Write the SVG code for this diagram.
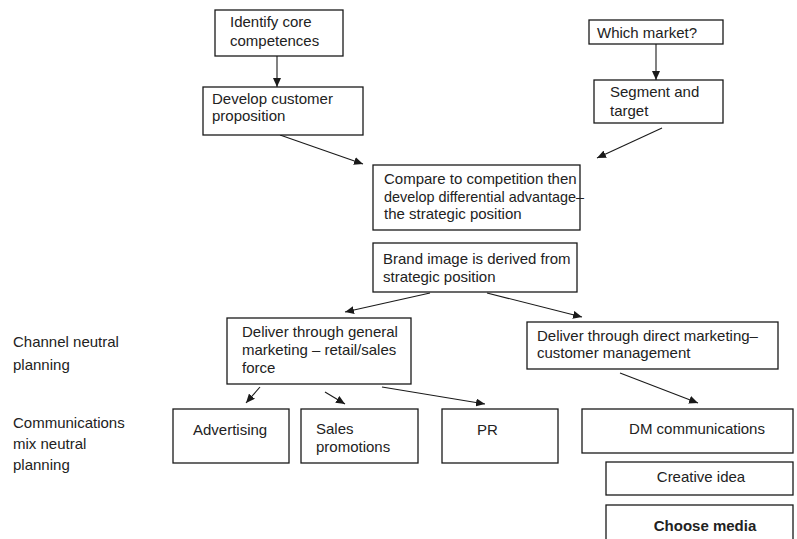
<svg xmlns="http://www.w3.org/2000/svg" width="797" height="539" viewBox="0 0 797 539">
<style>
  .box { fill: #ffffff; stroke: #1a1a1a; stroke-width: 1.3; }
  text { font-family: "Liberation Sans", Arial, sans-serif; font-size: 15px; fill: #222222; }
  .c { text-anchor: middle; }
  .b { font-weight: bold; }
  .con { stroke: #1a1a1a; stroke-width: 1.1; fill: none; marker-end: url(#ah); }
</style>
<defs>
  <marker id="ah" markerUnits="userSpaceOnUse" markerWidth="10" markerHeight="8" refX="9" refY="4" orient="auto">
    <path d="M0,0 L9,4 L0,8 Z" fill="#1a1a1a"/>
  </marker>
</defs>
<rect width="797" height="539" fill="#ffffff"/>

<g id="connectors">
  <line class="con" x1="277" y1="56" x2="277" y2="87"/>
  <line class="con" x1="656" y1="44" x2="656" y2="80"/>
  <line class="con" x1="280" y1="135" x2="363" y2="164"/>
  <line class="con" x1="662" y1="128" x2="597" y2="158"/>
  <line class="con" x1="430" y1="293" x2="345" y2="312"/>
  <line class="con" x1="487" y1="293" x2="582" y2="317"/>
  <line class="con" x1="260" y1="387" x2="246" y2="403"/>
  <line class="con" x1="325" y1="392" x2="345" y2="404"/>
  <line class="con" x1="382" y1="387" x2="485" y2="404"/>
  <line class="con" x1="620" y1="373" x2="698" y2="403"/>
</g>

<g id="identify">
  <rect class="box" x="215" y="10" width="128" height="46"/>
  <text x="230" y="27">Identify core</text>
  <text x="230" y="46">competences</text>
</g>
<g id="develop">
  <rect class="box" x="203" y="87" width="160" height="48"/>
  <text x="212" y="104">Develop customer</text>
  <text x="212" y="121">proposition</text>
</g>
<g id="which-market">
  <rect class="box" x="589" y="20" width="134" height="24"/>
  <text x="597" y="38">Which market?</text>
</g>
<g id="segment">
  <rect class="box" x="594" y="80" width="129" height="43"/>
  <text x="610" y="97">Segment and</text>
  <text x="610" y="116">target</text>
</g>
<g id="compare">
  <rect class="box" x="373" y="165" width="207" height="65"/>
  <text x="384" y="184">Compare to competition then</text>
  <text x="384" y="202" textLength="200" lengthAdjust="spacingAndGlyphs">develop differential advantage–</text>
  <text x="384" y="219">the strategic position</text>
</g>
<g id="brand">
  <rect class="box" x="373" y="243" width="204" height="49"/>
  <text x="383" y="264">Brand image is derived from</text>
  <text x="383" y="282">strategic position</text>
</g>
<g id="general">
  <rect class="box" x="227" y="318" width="184" height="66"/>
  <text x="242" y="337">Deliver through general</text>
  <text x="242" y="355">marketing – retail/sales</text>
  <text x="242" y="373">force</text>
</g>
<g id="direct">
  <rect class="box" x="527" y="322" width="251" height="47"/>
  <text x="537" y="341">Deliver through direct marketing–</text>
  <text x="537" y="358">customer management</text>
</g>
<g id="advertising">
  <rect class="box" x="173" y="409" width="116" height="54"/>
  <text x="193" y="435">Advertising</text>
</g>
<g id="sales">
  <rect class="box" x="301" y="409" width="117" height="54"/>
  <text x="316" y="434">Sales</text>
  <text x="316" y="452">promotions</text>
</g>
<g id="pr">
  <rect class="box" x="442" y="409" width="116" height="54"/>
  <text x="477" y="435">PR</text>
</g>
<g id="dm">
  <rect class="box" x="582" y="409" width="211" height="44"/>
  <text class="c" x="697" y="434">DM communications</text>
</g>
<g id="creative">
  <rect class="box" x="606" y="462" width="187" height="33"/>
  <text class="c" x="701" y="482">Creative idea</text>
</g>
<g id="media">
  <rect class="box" x="606" y="505" width="187" height="40"/>
  <text class="c b" x="705" y="531">Choose media</text>
</g>

<g id="labels">
  <text x="13" y="347">Channel neutral</text>
  <text x="13" y="370">planning</text>
  <text x="13" y="428">Communications</text>
  <text x="13" y="449">mix neutral</text>
  <text x="13" y="470">planning</text>
</g>
</svg>
